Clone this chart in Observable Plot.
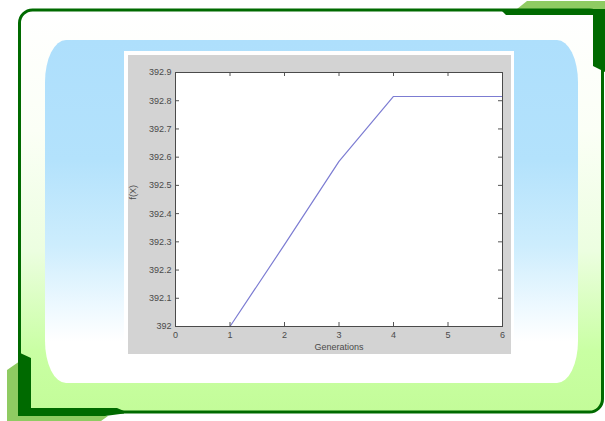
<!DOCTYPE html>
<html><head><meta charset="utf-8">
<script src="https://cdn.jsdelivr.net/npm/d3@7"></script>
<script src="https://cdn.jsdelivr.net/npm/@observablehq/plot@0.6"></script>
<style>
html,body{margin:0;padding:0;background:#fff;}
body{width:605px;height:421px;position:relative;overflow:hidden;font-family:"Liberation Sans",Arial,sans-serif;}
#deco{position:absolute;left:0;top:0;}
#blue{position:absolute;left:45px;top:40px;width:533px;height:343px;border-radius:21px/42px;
  background:linear-gradient(to bottom,#aedffc 0%,#b3e2fc 35%,#cdedfd 60%,#eef9ff 78%,#ffffff 88%,#ffffff 100%);}
#white{position:absolute;left:124px;top:51px;width:390px;height:307px;background:#fff;}
#chart{position:absolute;left:128px;top:55px;}
</style></head>
<body>
<svg id="deco" width="605" height="421" xmlns="http://www.w3.org/2000/svg">
  <defs>
    <linearGradient id="pg" x1="0" y1="0" x2="0" y2="1">
      <stop offset="0" stop-color="#ffffff"/>
      <stop offset="0.3" stop-color="#fbfff6"/>
      <stop offset="0.6" stop-color="#ecfee0"/>
      <stop offset="0.85" stop-color="#c9ffa3"/>
      <stop offset="1" stop-color="#c3fc99"/>
    </linearGradient>
  </defs>
  <polygon points="517,9 527,1 605,1 605,9" fill="#8fcb62"/>
  <polygon points="7,370 20,361 20,416 108,416 101,421 7,421" fill="#8fcb62"/>
  <rect x="19.5" y="10" width="583" height="402" rx="13" ry="13" fill="url(#pg)" stroke="#006a00" stroke-width="3"/>
  <polygon points="500,9 605,9 605,72 593,66 593,15 506,15" fill="#006a00"/>
  <polygon points="18,352 31,358 31,408 117,408 124,411 124,413.5 105,416 18,416" fill="#006a00"/>
</svg>
<div id="blue"></div>
<div id="white"></div>
<div id="chart"></div>
<script>
const generations = [1, 2, 3, 4, 5, 6];
const fitness = [392.0, 392.29, 392.585, 392.815, 392.815, 392.815];
const xTicks = [0, 1, 2, 3, 4, 5, 6];
const yTicks = [392, 392.1, 392.2, 392.3, 392.4, 392.5, 392.6, 392.7, 392.8, 392.9];
const yTickLabels = ["392", "392.1", "392.2", "392.3", "392.4", "392.5", "392.6", "392.7", "392.8", "392.9"];
const xLabel = "Generations";
const yLabel = "f(X)";

const W = 383, H = 299, mL = 47, mR = 9, mT = 17, mB = 28;
const pw = W - mL - mR, ph = H - mT - mB;
const data = generations.map((g, i) => ({g, f: fitness[i]}));

const chart = Plot.plot({
  width: W, height: H,
  marginLeft: mL, marginRight: mR, marginTop: mT, marginBottom: mB,
  style: {background: "#d3d3d3", fontFamily: "'Liberation Sans', Arial, sans-serif", fontSize: "9px", color: "#4a4a4a", overflow: "visible"},
  x: {domain: [0, 6]},
  y: {domain: [392, 392.9]},
  marks: [
    Plot.frame({fill: "#ffffff", stroke: null}),
    Plot.line(data, {x: "g", y: "f", stroke: "#7c7cd2", strokeWidth: 1.2}),
    Plot.tickX(xTicks, {x: d => d, insetTop: ph - 4, stroke: "#555"}),
    Plot.tickX(xTicks, {x: d => d, insetBottom: ph - 4, stroke: "#555"}),
    Plot.tickY(yTicks, {y: d => d, insetRight: pw - 4, stroke: "#555"}),
    Plot.tickY(yTicks, {y: d => d, insetLeft: pw - 4, stroke: "#555"}),
    Plot.frame({stroke: "#4a4a4a"}),
    Plot.axisX(xTicks, {tickSize: 0, tickPadding: 5, label: null}),
    Plot.axisY(yTicks, {tickSize: 0, tickPadding: 4, label: null, tickFormat: d => yTickLabels[yTicks.indexOf(d)]}),
    Plot.text([xLabel], {frameAnchor: "bottom", dy: 23, text: d => d}),
    Plot.text([yLabel], {frameAnchor: "left", dx: -42, rotate: -90, text: d => d})
  ]
});
document.getElementById("chart").appendChild(chart);
</script>
</body></html>
